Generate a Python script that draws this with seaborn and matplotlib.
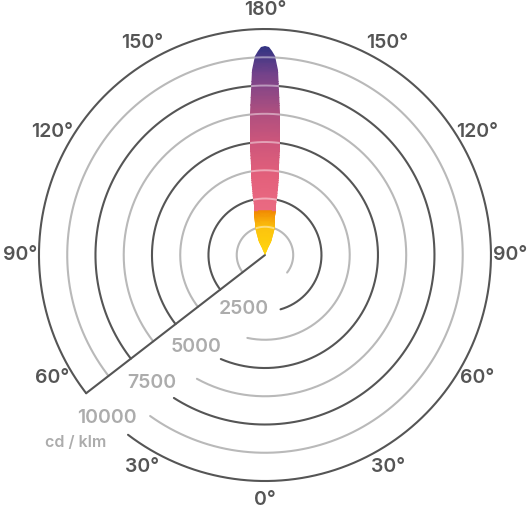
import numpy as np
import matplotlib
matplotlib.use("Agg")
import matplotlib.pyplot as plt
from matplotlib.colors import LinearSegmentedColormap, Normalize
import seaborn as sns

# --- data ---
# beam: deviation from 180 deg (deg) -> luminous intensity (cd/klm)
beam_gamma = [0, 1, 2, 3, 4, 5, 6, 7, 8, 9, 10, 11, 12, 13, 14, 15, 17, 19, 21, 23, 25, 28, 30]
beam_cd = [9250, 9200, 9050, 8800, 8200, 7300, 6300, 5400, 4700, 4050, 3500,
           3000, 2600, 2250, 2000, 1800, 1500, 1300, 950, 630, 350, 100, 0]

ring_values = [1250, 2500, 3750, 5000, 6250, 7500, 8750, 10000]
ring_end_deg = [51.6, 16.0, -12.0, -23.0, -28.8, -32.5, -35.5, -37.3]
major_rings = [2500, 5000, 7500, 10000]
ring_labels = ["2500", "5000", "7500", "10000"]
ring_label_deg = [-21.5, -36.7, -41.5, -44.1]
unit_label = "cd / klm"

angle_ticks = [0, 30, 60, 90, 120, 150, 180]
cut_deg = 307.7  # radial line where the rings start

DARK = "#555555"
LIGHT = "#b9b9b9"
LABEL_GRAY = "#acacac"

sns.set_theme(style="white")
plt.rcParams["font.family"] = ["Inter", "DejaVu Sans"]

fig = plt.figure(figsize=(5.31, 5.08), dpi=100)
ax = fig.add_axes([0.0734, 0.0531, 0.8512, 0.8898], projection="polar")
ax.set_theta_zero_location("S")
ax.set_theta_direction(1)
ax.set_ylim(0, 10000)
ax.grid(False)
ax.set_xticks([])
ax.set_yticks([])
ax.spines["polar"].set_visible(False)

# --- rings ---
for val, end in zip(ring_values, ring_end_deg):
    th = np.radians(np.linspace(end, cut_deg, 400))
    col = DARK if val in major_rings else LIGHT
    sns.lineplot(x=th, y=np.full_like(th, val), ax=ax, sort=False,
                 color=col, lw=1.5, zorder=2)
    ax.lines[-1].set_clip_on(False)

# radial cut line
ax.plot([np.radians(cut_deg)] * 2, [0, 10000], color=DARK, lw=1.5, zorder=2,
        solid_capstyle="round", clip_on=False)

# --- beam with radial gradient ---
g = np.array(beam_gamma, dtype=float)
c = np.array(beam_cd, dtype=float)
beam_th = np.radians(np.concatenate([180 - g[::-1], 180 + g[1:]]))
beam_r = np.concatenate([c[::-1], c[1:]])
patch = ax.fill(beam_th, beam_r, facecolor="none", edgecolor="none", zorder=3)[0]

cmap = LinearSegmentedColormap.from_list("beam", [
    (0.0, "#ffd60c"), (0.12, "#fcc30e"), (0.195, "#f18a02"),
    (0.2, "#ea6a82"), (0.35, "#e3607b"), (0.5, "#cd567b"),
    (0.65, "#a94e80"), (0.8, "#74428a"), (0.93, "#2e3382"), (1.0, "#2e3382")])
t_edges = np.radians(np.linspace(140, 220, 161))
r_edges = np.linspace(0, 9500, 191)
T, R = np.meshgrid(t_edges, r_edges)
C = np.tile(((r_edges[:-1] + r_edges[1:]) / 2)[:, None], (1, len(t_edges) - 1))
mesh = ax.pcolormesh(T, R, C, cmap=cmap, norm=Normalize(0, 10000),
                     shading="flat", zorder=4, edgecolors="face", lw=0)
mesh.set_clip_path(patch)

# faint rings across the beam
for val in ring_values:
    th = np.radians(np.linspace(150, 210, 200))
    ln, = ax.plot(th, np.full_like(th, val), color="white", alpha=0.45, lw=1.4, zorder=5)
    ln.set_clip_path(patch)

# --- labels ---
for t in angle_ticks:
    for a in {t, (360 - t) % 360}:
        ax.text(np.radians(a), 10850, f"{t}°", ha="center", va="center",
                fontsize=14, color=DARK, fontweight="semibold", clip_on=False)

for lab, val, a in zip(ring_labels, major_rings, ring_label_deg):
    ax.text(np.radians(a), val + 70, lab, ha="center", va="center",
            fontsize=14, color=LABEL_GRAY, fontweight="semibold", clip_on=False)
ax.text(np.radians(-45.2), 11780, unit_label, ha="center", va="center",
        fontsize=11.5, color=LABEL_GRAY, fontweight="semibold", clip_on=False)

fig.savefig("out.png", dpi=100)
